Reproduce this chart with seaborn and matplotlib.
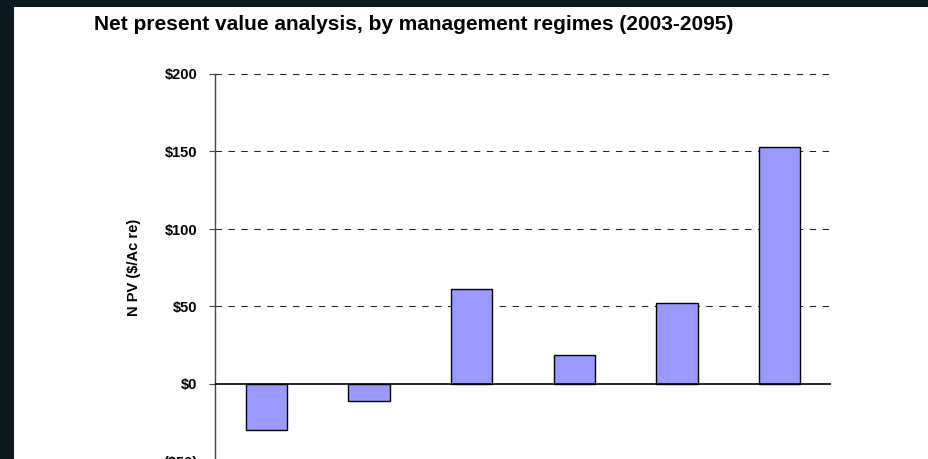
import matplotlib
matplotlib.use("Agg")
from matplotlib import pyplot as plt
from matplotlib.patches import Rectangle
import pandas as pd
import seaborn as sns

# values (NPV, $/acre)
regimes = ["Regime 1", "Regime 2", "Regime 3", "Regime 4", "Regime 5", "Regime 6"]
npv = [-30, -11, 61, 19, 52, 153]
y_ticks = [-50, 0, 50, 100, 150, 200]
y_tick_labels = ["($50)", "$0", "$50", "$100", "$150", "$200"]

df = pd.DataFrame({"regime": regimes, "npv": npv})

sns.set_theme(style="white")
plt.rcParams["font.family"] = ["Liberation Sans", "DejaVu Sans"]
plt.rcParams["text.color"] = "black"
plt.rcParams["axes.labelcolor"] = "black"
plt.rcParams["ytick.labelcolor"] = "black"

W, H = 929, 459
fig = plt.figure(figsize=(W / 100, H / 100), dpi=100)
fig.patch.set_facecolor("white")

# axes placed in pixel terms; bottom of the axes runs past the image edge
left, right, top, bottom = 215, 831, 74, 461.5
ax = fig.add_axes([left / W, 1 - bottom / H, (right - left) / W, (bottom - top) / H])

sns.barplot(data=df, x="regime", y="npv", color="#9999FF", width=0.4,
            edgecolor="black", linewidth=1, saturation=1, ax=ax)

ax.set_ylim(y_ticks[0], y_ticks[-1])
ax.set_xlim(-0.5, len(regimes) - 0.5)
ax.set_yticks(y_ticks)
ax.set_yticklabels(y_tick_labels, fontsize=10.5, fontweight="bold", color="black")
ax.set_xticks([])
ax.set_xlabel("")
ax.set_ylabel("N PV ($/Ac re)", fontsize=10.5, fontweight="bold", labelpad=16, color="black")

for t in y_ticks:
    if t == 0:
        continue
    ax.axhline(t, color="#222222", lw=0.75, ls=(0, (6.2, 6.2)), zorder=0, clip_on=False)
ax.axhline(0, color="black", lw=1.2, zorder=3)

for s in ["top", "right", "bottom"]:
    ax.spines[s].set_visible(False)
ax.spines["left"].set_color("#444444")
ax.spines["left"].set_linewidth(1)
ax.tick_params(axis="y", left=True, length=4, width=0.8, color="#444444", pad=8.5)

fig.text(414 / W, 1 - 24 / H,
         "Net present value analysis, by management regimes (2003-2095)",
         ha="center", va="center", fontsize=15, fontweight="bold", color="black")

# dark frame strips at top and left
dark = "#0b1a20"
fig.patches.append(Rectangle((0, 0), 14 / W, 1, transform=fig.transFigure,
                             facecolor=dark, edgecolor="none", zorder=10))
fig.patches.append(Rectangle((0, 1 - 7 / H), 1, 7 / H, transform=fig.transFigure,
                             facecolor=dark, edgecolor="none", zorder=10))

fig.savefig("out.png", dpi=100)
